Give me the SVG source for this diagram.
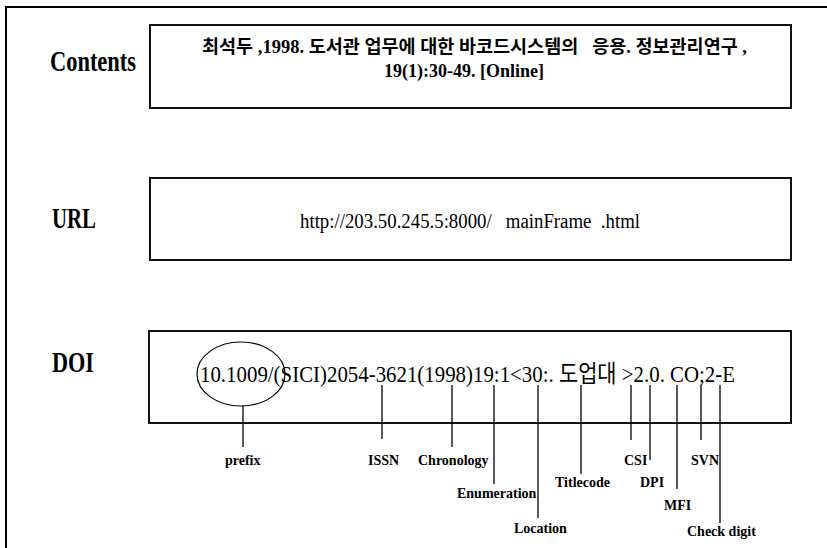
<svg xmlns="http://www.w3.org/2000/svg" width="827" height="548" viewBox="0 0 827 548">
<style>
.frame{fill:none;stroke:#000;stroke-width:2}
.box{fill:#fff;stroke:#111;stroke-width:2}
.side{font-family:"Liberation Serif","Times New Roman",serif;font-weight:bold;font-size:30px;fill:#000}
.ko{font-family:"Liberation Serif","Noto Sans CJK KR",serif;font-weight:bold;font-size:18px;fill:#000}
.main{font-family:"Liberation Serif","Noto Sans CJK KR",serif;font-size:20px;fill:#000}
.doi{font-family:"Liberation Serif","Noto Sans CJK KR",serif;font-size:24px;fill:#000}
.lab{font-family:"Liberation Serif","Times New Roman",serif;font-weight:bold;font-size:14px;fill:#000}
.conn line{stroke:#000;stroke-width:1.3}
</style>
<rect width="827" height="548" fill="#fff"/>
<path class="frame" d="M6,548 V7 H827"/>
<g id="contents">
<text class="side" x="50" y="71" textLength="86" lengthAdjust="spacingAndGlyphs">Contents</text>
<rect class="box" x="150" y="25" width="641" height="83"/>
<text class="ko" x="202" y="53" textLength="545" lengthAdjust="spacingAndGlyphs" xml:space="preserve">최석두 ,1998. 도서관 업무에 대한 바코드시스템의   응용. 정보관리연구 ,</text>
<text class="ko" x="464" y="77" text-anchor="middle" font-size="17">19(1):30-49. [Online]</text>
</g>
<g id="url">
<text class="side" x="52" y="228" textLength="44" lengthAdjust="spacingAndGlyphs">URL</text>
<rect class="box" x="150" y="178" width="641" height="82"/>
<text class="main" x="300" y="228" textLength="340" lengthAdjust="spacingAndGlyphs" xml:space="preserve">http://203.50.245.5:8000/   mainFrame  .html</text>
</g>
<g id="doi">
<text class="side" x="52" y="372" textLength="42" lengthAdjust="spacingAndGlyphs">DOI</text>
<rect class="box" x="149" y="331" width="642" height="92"/>
<ellipse cx="241" cy="374" rx="44" ry="32" fill="none" stroke="#000" stroke-width="1.2"/>
<text class="doi" x="200" y="382" textLength="535" lengthAdjust="spacingAndGlyphs">10.1009/(SICI)2054-3621(1998)19:1&lt;30:. 도업대 &gt;2.0. CO;2-E</text>
</g>
<g class="conn" id="connectors">
<line x1="243" y1="406" x2="243" y2="447"/>
<line x1="382" y1="385" x2="382" y2="439"/>
<line x1="452" y1="385" x2="452" y2="447"/>
<line x1="494" y1="385" x2="494" y2="484"/>
<line x1="538" y1="385" x2="538" y2="518"/>
<line x1="581" y1="385" x2="581" y2="474"/>
<line x1="631" y1="385" x2="631" y2="440"/>
<line x1="650" y1="385" x2="650" y2="460"/>
<line x1="677" y1="385" x2="677" y2="489"/>
<line x1="701" y1="385" x2="701" y2="440"/>
<line x1="720" y1="385" x2="720" y2="523"/>
</g>
<g id="labels">
<text class="lab" x="225" y="465">prefix</text>
<text class="lab" x="368" y="465">ISSN</text>
<text class="lab" x="418" y="465">Chronology</text>
<text class="lab" x="457" y="498">Enumeration</text>
<text class="lab" x="514" y="533">Location</text>
<text class="lab" x="555" y="487">Titlecode</text>
<text class="lab" x="624" y="465">CSI</text>
<text class="lab" x="640" y="487">DPI</text>
<text class="lab" x="664" y="510">MFI</text>
<text class="lab" x="691" y="465">SVN</text>
<text class="lab" x="687" y="536">Check digit</text>
</g>
</svg>
